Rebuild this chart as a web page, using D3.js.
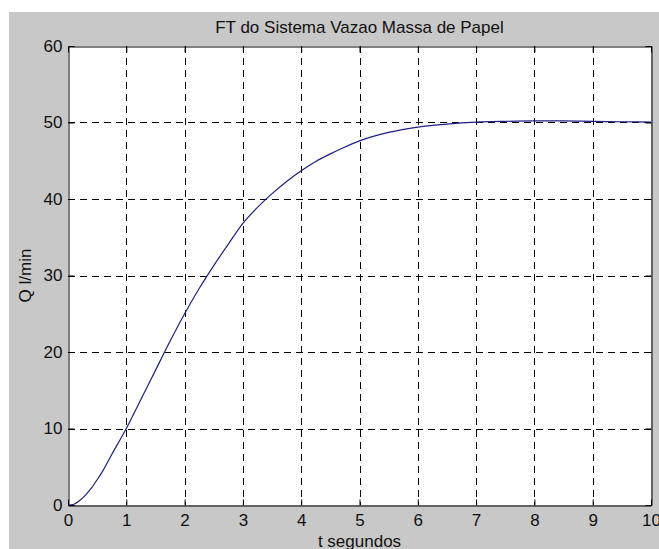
<!DOCTYPE html>
<html><head><meta charset="utf-8">
<script src="https://cdn.jsdelivr.net/npm/d3@7"></script>
<style>
html,body{margin:0;padding:0;background:#fff;}
svg{display:block;}
text{font-family:"Liberation Sans",Arial,Helvetica,sans-serif;fill:#111;}
</style></head>
<body>
<svg id="c" width="659" height="549"></svg>
<script>
const titleText = "FT do Sistema Vazao Massa de Papel";
const xLabel = "t segundos";
const yLabel = "Q l/min";
const xTicks = [0,1,2,3,4,5,6,7,8,9,10];
const yTicks = [0,10,20,30,40,50,60];
const tValues = [0,0.1,0.2,0.3,0.4,0.5,0.6,0.75,1,1.25,1.5,1.75,2,2.25,2.5,2.75,3,3.25,3.5,3.75,4,4.25,4.5,4.75,5,5.5,6,6.5,7,7.5,8,8.5,9,9.5,10];
const qValues = [0,0.1,0.6,1.3,2.2,3.3,4.5,6.6,10,13.8,17.6,21.4,25.0,28.3,31.3,34.1,36.8,38.9,40.7,42.3,43.7,44.9,45.9,46.8,47.6,48.7,49.4,49.8,50.05,50.15,50.2,50.2,50.15,50.1,50.05];

const svg = d3.select("#c");
const W = 659, H = 549;
const L = 68, R = 651, T = 46, B = 505;

svg.append("rect").attr("x",9).attr("y",12).attr("width",W-9).attr("height",H-12).attr("fill","#c8c8c8");
svg.append("rect").attr("x",L).attr("y",T).attr("width",R-L).attr("height",B-T).attr("fill","#fff");

const x = d3.scaleLinear().domain([0,10]).range([L,R]);
const y = d3.scaleLinear().domain([0,60]).range([B,T]);

const g = svg.append("g");
g.selectAll(".gx").data(xTicks.slice(1,-1)).enter().append("line")
  .attr("x1",d=>Math.round(x(d))+0.5).attr("x2",d=>Math.round(x(d))+0.5)
  .attr("y1",T).attr("y2",B).attr("stroke","#000").attr("stroke-width",1)
  .attr("stroke-dasharray","7,5");
g.selectAll(".gy").data(yTicks.slice(1,-1)).enter().append("line")
  .attr("y1",d=>Math.round(y(d))+0.5).attr("y2",d=>Math.round(y(d))+0.5)
  .attr("x1",L).attr("x2",R).attr("stroke","#000").attr("stroke-width",1)
  .attr("stroke-dasharray","7,5");

const line = d3.line().x((d,i)=>x(tValues[i])).y(d=>y(d)).curve(d3.curveMonotoneX);
svg.append("path").datum(qValues).attr("d",line).attr("fill","none")
  .attr("stroke","#1f1f85").attr("stroke-width",1.2);

const fs = 17;
const axB = d3.axisBottom(x).tickValues(xTicks).tickSizeInner(-6).tickSizeOuter(0).tickPadding(8);
const axT = d3.axisTop(x).tickValues(xTicks).tickSizeInner(-6).tickSizeOuter(0).tickFormat("");
const axL = d3.axisLeft(y).tickValues(yTicks).tickSizeInner(-6).tickSizeOuter(0).tickPadding(6);
const axR = d3.axisRight(y).tickValues(yTicks).tickSizeInner(-6).tickSizeOuter(0).tickFormat("");
function style(sel){
  sel.select(".domain").attr("stroke","#000");
  sel.selectAll(".tick line").attr("stroke","#000");
  sel.selectAll("text").attr("font-size",fs).attr("fill","#111")
     .attr("font-family","'Liberation Sans',Arial,sans-serif");
}
svg.append("g").attr("transform",`translate(0,${B+0.5})`).call(axB).call(style);
svg.append("g").attr("transform",`translate(0,${T+0.5})`).call(axT).call(style);
svg.append("g").attr("transform",`translate(${L+0.5},0)`).call(axL).call(style);
svg.append("g").attr("transform",`translate(${R+0.5},0)`).call(axR).call(style);

svg.append("text").attr("x",(L+R)/2).attr("y",33).attr("text-anchor","middle")
  .attr("font-size",fs).text(titleText);
svg.append("text").attr("x",(L+R)/2).attr("y",547).attr("text-anchor","middle")
  .attr("font-size",fs).text(xLabel);
svg.append("text").attr("transform",`translate(31,${(T+B)/2}) rotate(-90)`)
  .attr("text-anchor","middle").attr("font-size",fs).text(yLabel);
</script>
</body></html>
